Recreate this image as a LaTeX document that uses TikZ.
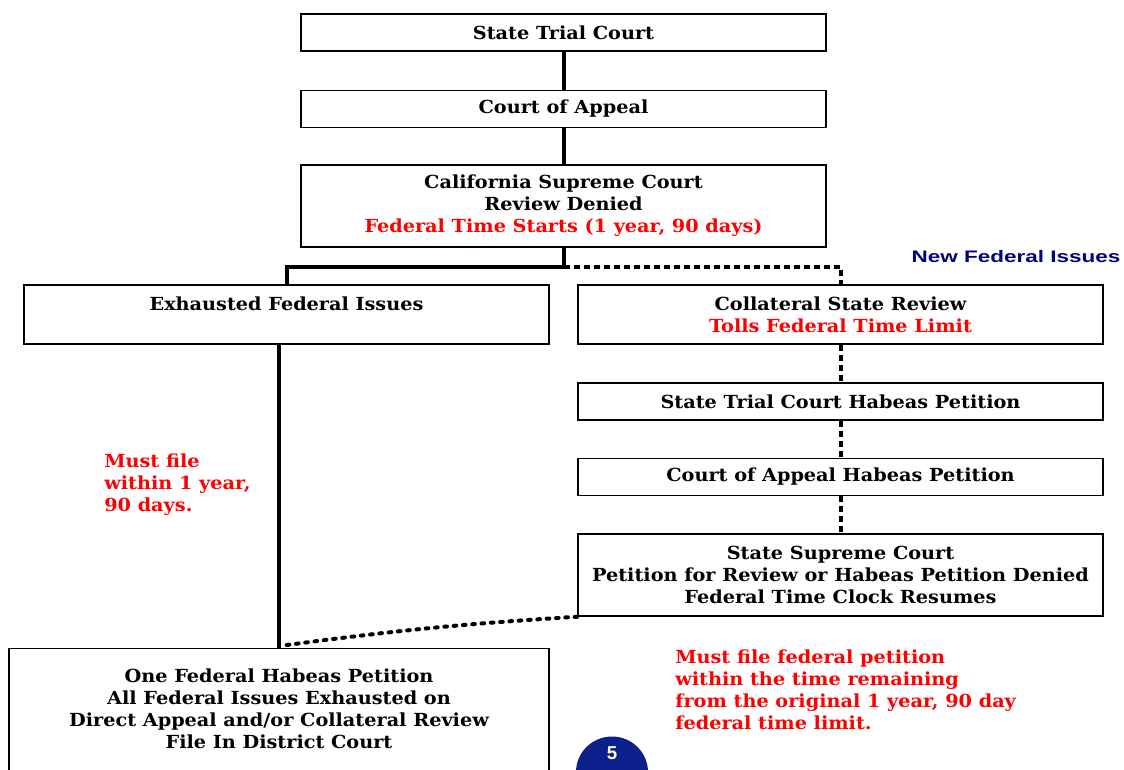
\documentclass[tikz,border=0pt]{standalone}
\usepackage{fontspec}
\setmainfont[FakeStretch=1.07]{DejaVu Serif}
\newfontfamily\habsans[FakeStretch=1.35]{Liberation Sans}
\newfontfamily\habnumfont{Liberation Sans}
\usepackage{tikz}
\usetikzlibrary{positioning,shapes.geometric}
\definecolor{habred}{RGB}{255,0,0}
\definecolor{habnavy}{RGB}{0,0,128}
\definecolor{habdisc}{RGB}{12,32,140}
\newcommand\habfont{\fontsize{13.5}{16.5}\selectfont\bfseries}
\tikzset{
  habstage/.style={
    draw=black,
    line width=1.1pt,
    align=center,
    inner sep=2pt,
    font=\habfont,
    minimum width=393.75pt
  },
  habshort/.style={habstage,minimum height=27.75pt},
  habmid/.style={habstage,minimum height=44.25pt},
  habtall/.style={habstage,minimum height=61.5pt},
  habfinal/.style={habstage,minimum width=405pt,anchor=north,inner ysep=15pt},
  habdirect/.style={line width=3pt},
  habcollat/.style={line width=3pt,dash pattern=on 4.5pt off 3pt},
  habresume/.style={line width=3pt,line cap=round,dash pattern=on 2pt off 5pt},
  habnote/.style={font=\habfont,text=habred,align=left,anchor=north west,inner sep=0pt},
  habissue/.style={font=\habsans\fontsize{12.5}{14}\selectfont\bfseries,text=habnavy},
  habpage/.style={ellipse,fill=habdisc,text=white,minimum width=54pt,minimum height=52.5pt,
                  inner sep=0pt,text depth=28pt,font=\habnumfont\fontsize{14}{16}\selectfont\bfseries}
}
\begin{document}
\begin{tikzpicture}[x=0.75pt,y=-0.75pt]
  \useasboundingbox (0,0) rectangle (1124,770);
  \clip (0,0) rectangle (1124,770);

  \node[habshort] (trial) at (563.5,32.5) {State Trial Court};
  \node[habshort] (appeal) at (563.5,109) {Court of Appeal};
  \node[habtall] (calsup) at (563.5,206)
    {California Supreme Court\\Review Denied\\\textcolor{habred}{Federal Time Starts (1 year, 90 days)}};
  \node[habmid] (exhaust) at (286.5,314.5) {Exhausted Federal Issues\\[-5pt]\strut};
  \node[habmid] (collat) at (840.5,314.5)
    {Collateral State Review\\\textcolor{habred}{Tolls Federal Time Limit}};
  \node[habshort] (sthab) at (840.5,401.5) {State Trial Court Habeas Petition};
  \node[habshort] (aphab) at (840.5,477) {Court of Appeal Habeas Petition};
  \node[habtall] (suphab) at (840.5,575)
    {State Supreme Court\\Petition for Review or Habeas Petition Denied\\Federal Time Clock Resumes};
  \node[habfinal] (fedpet) at (279,648)
    {One Federal Habeas Petition\\All Federal Issues Exhausted on\\Direct Appeal and/or Collateral Review\\File In District Court\\[30pt]\strut};

  \path (calsup.south) ++(0,19) coordinate (split);
  \draw[habdirect] (trial) -- (appeal);
  \draw[habdirect] (appeal) -- (calsup);
  \draw[habdirect] (calsup.south) -- (split) -| (exhaust.north);
  \draw[habcollat] (split) -| (collat.north);
  \draw[habcollat] (collat) -- (sthab);
  \draw[habcollat] (sthab) -- (aphab);
  \draw[habcollat] (aphab) -- (suphab);
  \draw[habdirect] (fedpet.north |- exhaust.south) -- (fedpet.north);
  \draw[habresume] (suphab.south west) to[bend right=2] ([xshift=4pt,yshift=2pt]fedpet.north);

  \node[habissue] (newfed) at (1016,257) {New Federal Issues};
  \node[habnote] (mustfile) at (104,454) {Must file\\within 1 year,\\90 days.};
  \node[habnote] (remain) at (675,650)
    {Must file federal petition\\within the time remaining\\from the original 1 year, 90 day\\federal time limit.};
  \node[habpage] (pagenum) at (612,772) {5};
\end{tikzpicture}
\end{document}
